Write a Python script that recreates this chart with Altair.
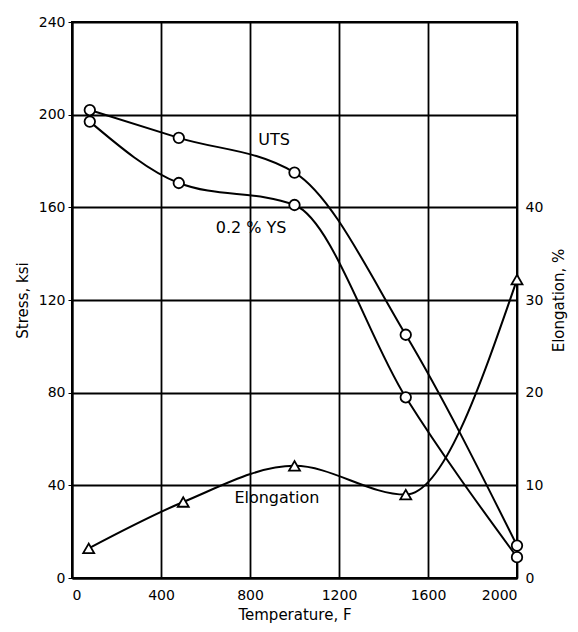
import altair as alt
import pandas as pd

# Data
temp_uts = [80, 480, 1000, 1500, 2000]
uts = [202, 190, 175, 105, 14]
temp_ys = [80, 480, 1000, 1500, 2000]
ys = [197, 170.5, 161, 78, 9]
temp_el = [75, 500, 1000, 1500, 2000]
elong = [3.2, 8.2, 12.1, 9.0, 32.2]

label_text = ["UTS", "0.2 % YS"]
label_x = [908, 805]
label_y = [189, 151]
el_label_x = [921]
el_label_y = [8.6]

FONT = "DejaVu Sans"

stress_df = pd.DataFrame({
    "temp": temp_uts + temp_ys,
    "stress": uts + ys,
    "series": ["UTS"] * len(uts) + ["YS"] * len(ys),
})
el_df = pd.DataFrame({"temp": temp_el, "elong": elong})
lab_df = pd.DataFrame({"t": label_text, "x": label_x, "y": label_y})
el_lab_df = pd.DataFrame({"t": ["Elongation"], "x": el_label_x, "y": el_label_y})

xscale = alt.Scale(domain=[0, 2000], nice=False, zero=False)
yscale = alt.Scale(domain=[0, 240], nice=False)
escale = alt.Scale(domain=[0, 60], nice=False)

x_axis = alt.Axis(values=[0, 400, 800, 1200, 1600, 2000], title="Temperature, F",
                  format="d",
                  grid=True, gridColor="black", gridWidth=1.8, gridOpacity=1,
                  domainColor="black", domainWidth=2, ticks=False, labelPadding=10,
                  labelFont=FONT, labelFontSize=14, labelColor="black",
                  titleFont=FONT, titleFontSize=15, titleFontWeight="normal",
                  titleColor="black", titlePadding=5)
y_axis = alt.Axis(values=[0, 40, 80, 120, 160, 200, 240], title="Stress, ksi",
                  format="d",
                  grid=True, gridColor="black", gridWidth=1.8, gridOpacity=1,
                  domainColor="black", domainWidth=2, ticks=True, tickSize=4,
                  tickColor="black", labelPadding=3,
                  labelFont=FONT, labelFontSize=14, labelColor="black",
                  titleFont=FONT, titleFontSize=15, titleFontWeight="normal",
                  titleColor="black", titlePadding=8)
e_axis = alt.Axis(values=[0, 10, 20, 30, 40], title="Elongation, %", orient="right",
                  format="d",
                  grid=False, domain=False, ticks=False, labelPadding=8,
                  labelFont=FONT, labelFontSize=14, labelColor="black",
                  titleFont=FONT, titleFontSize=15, titleFontWeight="normal",
                  titleColor="black", titleAngle=270, titlePadding=24)

stress_line = alt.Chart(stress_df).mark_line(
    interpolate="monotone", color="black", strokeWidth=2
).encode(
    x=alt.X("temp:Q", scale=xscale, axis=x_axis),
    y=alt.Y("stress:Q", scale=yscale, axis=y_axis),
    detail="series:N",
)
stress_pts = alt.Chart(stress_df).mark_point(
    shape="circle", size=110, filled=True, fill="white", stroke="black",
    strokeWidth=1.8, opacity=1
).encode(
    x=alt.X("temp:Q", scale=xscale),
    y=alt.Y("stress:Q", scale=yscale),
)
stress_lab = alt.Chart(lab_df).mark_text(
    font=FONT, fontSize=16, color="black"
).encode(
    x=alt.X("x:Q", scale=xscale),
    y=alt.Y("y:Q", scale=yscale),
    text="t:N",
)
stress_layer = alt.layer(stress_line, stress_pts, stress_lab)

el_line = alt.Chart(el_df).mark_line(
    interpolate="monotone", color="black", strokeWidth=2
).encode(
    x=alt.X("temp:Q", scale=xscale),
    y=alt.Y("elong:Q", scale=escale, axis=e_axis),
)
el_pts = alt.Chart(el_df).mark_point(
    shape="triangle-up", size=120, filled=True, fill="white", stroke="black",
    strokeWidth=1.8, opacity=1
).encode(
    x=alt.X("temp:Q", scale=xscale),
    y=alt.Y("elong:Q", scale=escale),
)
el_lab = alt.Chart(el_lab_df).mark_text(
    font=FONT, fontSize=16, color="black"
).encode(
    x=alt.X("x:Q", scale=xscale),
    y=alt.Y("y:Q", scale=escale),
    text="t:N",
)
el_layer = alt.layer(el_line, el_pts, el_lab)

chart = alt.layer(stress_layer, el_layer).resolve_scale(
    y="independent"
).properties(
    width=445, height=556,
    autosize=alt.AutoSizeParams(type="none"),
    padding={"left": 64, "top": 14, "right": 53, "bottom": 46},
    background="white",
).configure_view(
    stroke="black", strokeWidth=2
)

chart.save("out.html", embed_options={"renderer": "svg", "actions": False})
